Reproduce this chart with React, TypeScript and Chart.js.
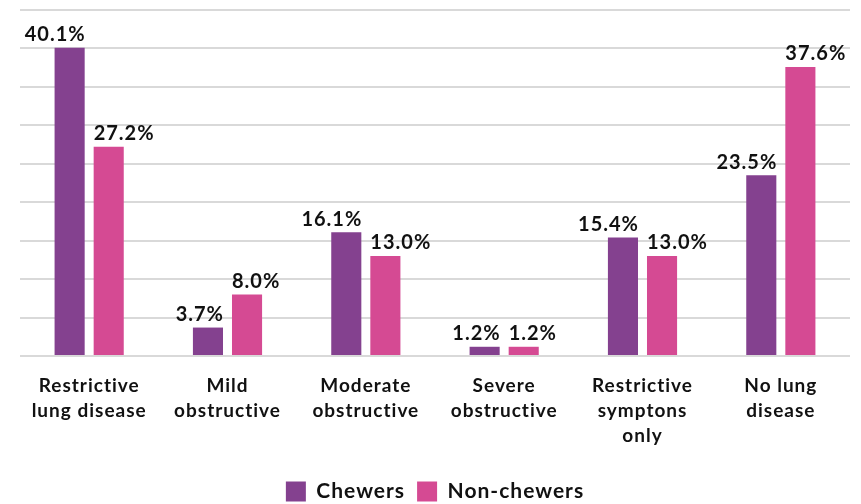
import React, { useEffect, useRef } from "react";
import { Chart, registerables } from "chart.js";

Chart.register(...registerables);

const categories: string[][] = [
  ["Restrictive", "lung disease"],
  ["Mild", "obstructive"],
  ["Moderate", "obstructive"],
  ["Severe", "obstructive"],
  ["Restrictive", "symptons", "only"],
  ["No lung", "disease"],
];
const chewers = [40.1, 3.7, 16.1, 1.2, 15.4, 23.5];
const nonChewers = [27.2, 8.0, 13.0, 1.2, 13.0, 37.6];

const PURPLE = "#84418F";
const PINK = "#D54A93";
const FONT = "Lato, 'Open Sans', sans-serif";

// Slightly open tracking for all chart text.
const tracking = {
  id: "tracking",
  beforeUpdate(chart: any) {
    chart.ctx.letterSpacing = "1px";
  },
  beforeDraw(chart: any) {
    chart.ctx.letterSpacing = "1px";
  },
};

// Percent labels above each bar: first series aligned to the bar's right edge,
// second series aligned to the bar's left edge.
const valueLabels = {
  id: "valueLabels",
  afterDatasetsDraw(chart: any) {
    const ctx = chart.ctx;
    ctx.save();
    ctx.letterSpacing = "1px";
    ctx.font = `bold 20px ${FONT}`;
    ctx.fillStyle = "#111111";
    ctx.textBaseline = "bottom";
    chart.data.datasets.forEach((ds: any, di: number) => {
      const meta = chart.getDatasetMeta(di);
      meta.data.forEach((bar: any, i: number) => {
        const v = ds.data[i] as number;
        const text = `${v.toFixed(1)}%`;
        const half = bar.width / 2;
        if (di === 0) {
          ctx.textAlign = "right";
          ctx.fillText(text, bar.x + half + 1, bar.y - 3);
        } else {
          ctx.textAlign = "left";
          ctx.fillText(text, bar.x - half, bar.y - 3);
        }
      });
    });
    ctx.restore();
  },
};

export default function App() {
  const ref = useRef<HTMLCanvasElement | null>(null);

  useEffect(() => {
    if (!ref.current) return;
    const chart = new Chart(ref.current, {
      type: "bar",
      data: {
        labels: categories,
        datasets: [
          {
            label: "Chewers",
            data: chewers,
            backgroundColor: PURPLE,
            categoryPercentage: 0.565,
            barPercentage: 0.77,
          },
          {
            label: "Non-chewers",
            data: nonChewers,
            backgroundColor: PINK,
            categoryPercentage: 0.565,
            barPercentage: 0.77,
          },
        ],
      },
      options: {
        animation: false,
        responsive: false,
        maintainAspectRatio: false,
        layout: { padding: { left: 20, right: 11, top: 10, bottom: 0 } },
        plugins: {
          tooltip: { enabled: false },
          legend: {
            position: "bottom",
            labels: {
              boxWidth: 20,
              boxHeight: 20,
              padding: 12,
              color: "#111111",
              font: { family: FONT, size: 21, weight: "bold" },
            },
          },
        },
        scales: {
          x: {
            grid: { display: false },
            border: { display: false },
            ticks: {
              color: "#111111",
              padding: 9,
              maxRotation: 0,
              autoSkip: false,
              font: { family: FONT, size: 19, weight: "bold", lineHeight: 1.32 },
            },
            afterFit(scale: any) {
              scale.height = 113;
            },
          },
          y: {
            min: 0,
            max: 45,
            ticks: { display: false, stepSize: 5 },
            border: { display: false },
            grid: { color: "#d9d9d9", lineWidth: 2, drawTicks: false },
          },
        },
      },
      plugins: [tracking, valueLabels],
    });
    return () => chart.destroy();
  }, []);

  return (
    <div style={{ position: "fixed", left: 0, top: 0, width: 861, height: 504, overflow: "hidden", background: "#fff" }}>
      <canvas ref={ref} width={861} height={512} style={{ display: "block" }} />
    </div>
  );
}
